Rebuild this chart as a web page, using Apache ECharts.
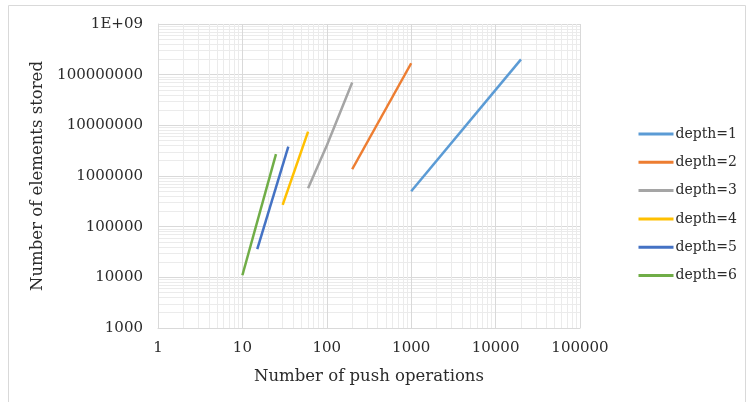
<!DOCTYPE html>
<html>
<head>
<meta charset="utf-8">
<title>push operations vs elements stored</title>
<script src="https://cdn.jsdelivr.net/npm/echarts@6/dist/echarts.min.js"></script>
<style>
html, body { margin: 0; padding: 0; background: #fff; }
#chart { width: 746px; height: 402px; }
</style>
</head>
<body>
<div id="chart"></div>
<script>
// data
var seriesNames = ['depth=1', 'depth=2', 'depth=3', 'depth=4', 'depth=5', 'depth=6'];
var depth1Push = [1000, 20000];
var depth1Stored = [500000, 200000000];
var depth2Push = [200, 1000];
var depth2Stored = [1360000, 168000000];
var depth3Push = [60, 100, 200];
var depth3Stored = [570000, 4000000, 70000000];
var depth4Push = [30, 60];
var depth4Stored = [270000, 7500000];
var depth5Push = [15, 35];
var depth5Stored = [36000, 3800000];
var depth6Push = [10, 25];
var depth6Stored = [11000, 2700000];
var xTickLabels = ['1', '10', '100', '1000', '10000', '100000'];
var yTickLabels = ['1000', '10000', '100000', '1000000', '10000000', '100000000', '1E+09'];
var colors = ['#5B9BD5', '#ED7D31', '#A5A5A5', '#FFC000', '#4472C4', '#70AD47'];

var FONT = '"DejaVu Serif", serif';
var TEXT = '#2b2b2b';

function pairs(xs, ys) {
	var out = [];
	for (var i = 0; i < xs.length; i++) {
		out.push([xs[i], ys[i]]);
	}
	return out;
}

var allPush = [depth1Push, depth2Push, depth3Push, depth4Push, depth5Push, depth6Push];
var allStored = [depth1Stored, depth2Stored, depth3Stored, depth4Stored, depth5Stored, depth6Stored];

var series = [];
for (var i = 0; i < seriesNames.length; i++) {
	series.push({
		name: seriesNames[i],
		type: 'line',
		symbol: 'none',
		data: pairs(allPush[i], allStored[i]),
		lineStyle: { width: 2.5, color: colors[i] },
		itemStyle: { color: colors[i] }
	});
}

var chart = echarts.init(document.getElementById('chart'));
chart.setOption({
	animation: false,
	color: colors,
	graphic: [{
		type: 'rect',
		shape: { x: 8.5, y: 5.5, width: 737, height: 400 },
		style: { fill: 'none', stroke: '#d9d9d9', lineWidth: 1 },
		silent: true
	}],
	grid: { left: 158, right: 166, top: 24, bottom: 74 },
	legend: {
		orient: 'vertical',
		left: 637,
		top: 127,
		padding: 0,
		itemWidth: 35,
		itemHeight: 14,
		itemGap: 14.3,
		data: seriesNames,
		itemStyle: { opacity: 0 },
		lineStyle: { width: 3 },
		textStyle: { fontFamily: FONT, fontSize: 14, color: TEXT, padding: [0, 0, 0, -3] }
	},
	xAxis: {
		type: 'log',
		logBase: 10,
		min: 1,
		max: 100000,
		name: 'Number of push operations',
		nameLocation: 'middle',
		nameGap: 40,
		nameTextStyle: { fontFamily: FONT, fontSize: 16.5, color: TEXT },
		axisLine: { show: true, lineStyle: { color: '#d9d9d9', width: 1 } },
		axisTick: { show: false },
		axisLabel: {
			fontFamily: FONT, fontSize: 15, color: TEXT, margin: 13,
			formatter: function(v) {
				return xTickLabels[Math.round(Math.log10(v))];
			}
		},
		splitLine: { show: true, lineStyle: { color: '#d9d9d9', width: 1 } },
		minorTick: { show: false, splitNumber: 9 },
		minorSplitLine: { show: true, lineStyle: { color: '#ebebeb', width: 1 } }
	},
	yAxis: {
		type: 'log',
		logBase: 10,
		min: 1000,
		max: 1000000000,
		name: 'Number of elements stored',
		nameLocation: 'middle',
		nameGap: 108,
		nameTextStyle: { fontFamily: FONT, fontSize: 16.5, color: TEXT },
		axisLine: { show: true, lineStyle: { color: '#d9d9d9', width: 1 } },
		axisTick: { show: false },
		axisLabel: {
			fontFamily: FONT, fontSize: 15, color: TEXT, margin: 15,
			formatter: function(v) {
				return yTickLabels[Math.round(Math.log10(v)) - 3];
			}
		},
		splitLine: { show: true, lineStyle: { color: '#d9d9d9', width: 1 } },
		minorTick: { show: false, splitNumber: 9 },
		minorSplitLine: { show: true, lineStyle: { color: '#ebebeb', width: 1 } }
	},
	series: series
});
</script>
</body>
</html>
